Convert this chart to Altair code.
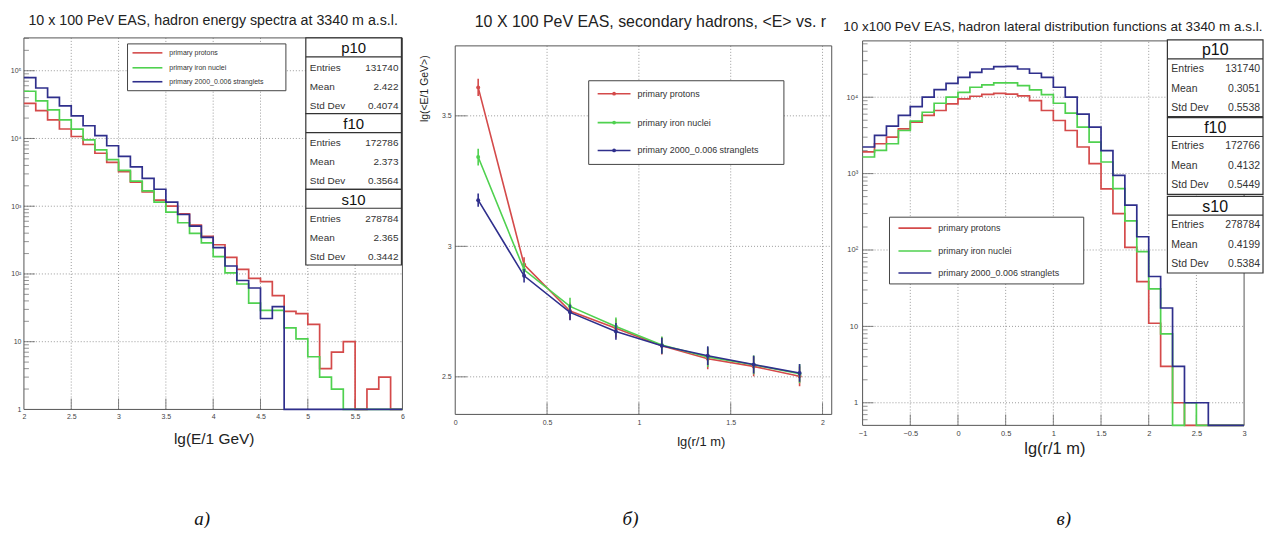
import altair as alt
import pandas as pd

FONT = "Liberation Sans"
W, H = 1262, 520
OFF = 8


def P(v):
    return v - OFF


# ---------------------------------------------------------------- data
series_names = ["primary protons", "primary iron nuclei", "primary 2000_0.006 stranglets"]
series_colors = ["#d44a4a", "#4fd14f", "#2f2f8c"]
stat_names = ["p10", "f10", "s10"]
stat_labels = ["Entries", "Mean", "Std Dev"]

# (a) hadron energy spectra, 32 bins of lg(E/1 GeV) between 2 and 6
energy_edges = [2 + 0.125 * i for i in range(33)]
energy_protons = [33000, 25800, 18800, 13800, 10700, 8150, 6050, 4450, 3230, 2270, 1620, 1230,
                  1000, 770, 525, 360, 270, 176, 117, 86, 77, 48, 28, 26, 18, 4, 7, 10, 0, 2, 3, 0]
energy_iron = [49800, 36000, 26400, 18800, 13700, 9560, 6800, 4870, 3390, 2350, 1680, 1150,
               820, 570, 398, 288, 180, 104, 71, 37, 29, 29, 16, 11, 6, 3, 2, 0, 0, 0, 0, 0]
energy_strange = [79000, 55600, 40500, 30200, 21500, 15400, 11000, 7800, 5430, 3800, 2570, 1780,
                  1150, 755, 508, 347, 245, 131, 80, 62, 22, 33, 0, 0, 0, 0, 0, 0, 0, 0, 0, 0]
energy_entries = [131740, 172786, 278784]
energy_means = [2.422, 2.373, 2.365]
energy_stds = [0.4074, 0.3564, 0.3442]
energy_xticks = [2, 2.5, 3, 3.5, 4, 4.5, 5, 5.5, 6]
energy_yticks = [1, 10, 100, 1000, 10000, 100000]

# (b) <E> of secondary hadrons vs lg(r)
r_centers = [0.125, 0.375, 0.625, 0.875, 1.125, 1.375, 1.625, 1.875]
mean_protons = [3.609, 2.930, 2.752, 2.686, 2.619, 2.569, 2.540, 2.502]
mean_iron = [3.342, 2.910, 2.770, 2.693, 2.622, 2.576, 2.546, 2.512]
mean_strange = [3.177, 2.887, 2.747, 2.674, 2.619, 2.581, 2.547, 2.515]
err_protons = [0.033, 0.028, 0.033, 0.035, 0.033, 0.040, 0.038, 0.038]
err_iron = [0.032, 0.028, 0.033, 0.034, 0.033, 0.038, 0.036, 0.036]
err_strange = [0.025, 0.026, 0.030, 0.032, 0.031, 0.036, 0.034, 0.034]
mean_xticks = [0, 0.5, 1, 1.5, 2]
mean_yticks = [2.5, 3, 3.5]

# (c) hadron lateral distribution, 32 bins of lg(r/1 m) between -1 and 3
radius_edges = [-1 + 0.125 * i for i in range(33)]
ldf_protons = [1920, 2460, 3010, 3860, 4720, 5770, 6700, 8200, 9500, 10300, 10900, 11200,
               11000, 10400, 9000, 6700, 4960, 3670, 2230, 1350, 630, 300, 108, 38.6, 11, 3, 1,
               0, 0, 0, 0, 0]
ldf_iron = [1650, 2020, 2460, 3670, 4860, 6360, 8340, 10000, 11600, 13500, 14500, 15400,
            15400, 14200, 12500, 10800, 8340, 6180, 4070, 2590, 1420, 635, 240, 95, 31, 8, 0, 1,
            0, 0, 0, 0]
ldf_strange = [2230, 3160, 4190, 5770, 7550, 10000, 12600, 15200, 18200, 21200, 23400, 25100,
               25400, 23400, 20600, 18200, 13500, 10000, 6000, 4070, 2000, 950, 386, 149, 45, 17.4,
               3, 1, 1, 0, 0, 0]
ldf_entries = [131740, 172766, 278784]
ldf_means = [0.3051, 0.4132, 0.4199]
ldf_stds = [0.5538, 0.5449, 0.5384]
ldf_xticks = [-1, -0.5, 0, 0.5, 1, 1.5, 2, 2.5, 3]
ldf_yticks = [1, 10, 100, 1000, 10000]

captions = ["а)", "б)", "в)"]

LOGEXPR = ("datum.value >= 99999 ? '10⁵' : datum.value >= 9999 ? '10⁴' : "
           "datum.value >= 999 ? '10³' : datum.value >= 99 ? '10²' : "
           "datum.value >= 9 ? '10' : '1'")

dummy = pd.DataFrame({"k": [0]})


# ---------------------------------------------------------------- helpers
def text_at(txt, x, y, size, align="center", color="#222", font=FONT, angle=0, style="normal"):
    return alt.Chart(dummy).mark_text(
        text=txt, align=align, baseline="middle", fontSize=size, font=font, color=color,
        angle=angle, fontStyle=style,
    ).encode(x=alt.value(P(x)), y=alt.value(P(y)))


def rect_at(x0, y0, x1, y1, stroke="#333", width=1.0):
    return alt.Chart(dummy).mark_rect(fill="white", stroke=stroke, strokeWidth=width).encode(
        x=alt.value(P(x0)), x2=alt.value(P(x1)), y=alt.value(P(y0)), y2=alt.value(P(y1)))


def hline_at(x0, x1, y, color, width=1.0):
    return alt.Chart(dummy).mark_rule(color=color, strokeWidth=width).encode(
        x=alt.value(P(x0)), x2=alt.value(P(x1)), y=alt.value(P(y)))


def dot_at(x, y, color):
    return alt.Chart(dummy).mark_point(filled=True, size=14, color=color, opacity=1).encode(
        x=alt.value(P(x)), y=alt.value(P(y)))


def legend_box(x0, y0, x1, y1, rows_y, lx0, lx1, tx, size, dots=False):
    out = [rect_at(x0, y0, x1, y1, stroke="#444")]
    for name, color, yy in zip(series_names, series_colors, rows_y):
        out.append(hline_at(lx0, lx1, yy, color, 1.6))
        if dots:
            out.append(dot_at((lx0 + lx1) / 2, yy, color))
        out.append(text_at(name, tx, yy, size, align="left", color="#333"))
    return out


def stats_boxes(x0, x1, tops, height, head_h, entries, means, stds, head_size, row_size, rows):
    out = []
    for top, nm, en, mn, sd in zip(tops, stat_names, entries, means, stds):
        out.append(rect_at(x0, top, x1, top + height, stroke="#333", width=1.2))
        out.append(hline_at(x0, x1, top + head_h, "#333", 1.2))
        out.append(text_at(nm, (x0 + x1) / 2, top + head_h / 2 + 1, head_size, color="#111"))
        for lab, val, off in zip(stat_labels, [str(en), str(mn), str(sd)], rows):
            out.append(text_at(lab, x0 + 4, top + off, row_size, align="left", color="#333"))
            out.append(text_at(val, x1 - 3, top + off, row_size, align="right", color="#333"))
    return out


def axis(orient, offset, values, size, pad, fmt=None, expr=None):
    kw = dict(orient=orient, offset=offset, values=values, ticks=False, tickSize=0, domain=False,
              grid=False, labelFontSize=size, labelColor="#444", labelFont=FONT,
              labelPadding=pad, labelFlush=False, labelOverlap=False, title=None)
    if fmt:
        kw["format"] = fmt
    if expr:
        kw["labelExpr"] = expr
    return alt.Axis(**kw)


def frame_layers(X, Y, xlo, xhi, ylo, yhi, gx, gy, mx, my, miny, tl):
    out = []
    out.append(alt.Chart(pd.DataFrame({"v": gx, "lo": ylo, "hi": yhi})).mark_rule(
        color="#9a9a9a", strokeDash=[1, 2], strokeWidth=1).encode(
        x=X("v"), y=Y("lo"), y2=alt.Y2("hi")))
    out.append(alt.Chart(pd.DataFrame({"v": gy, "lo": xlo, "hi": xhi})).mark_rule(
        color="#9a9a9a", strokeDash=[1, 2], strokeWidth=1).encode(
        y=Y("v"), x=X("lo"), x2=alt.X2("hi")))
    out.append(alt.Chart(pd.DataFrame({"x0": [xlo], "x1": [xhi], "y0": [ylo], "y1": [yhi]}))
               .mark_rect(fillOpacity=0, stroke="#555", strokeWidth=1).encode(
        x=X("x0"), x2=alt.X2("x1"), y=Y("y0"), y2=alt.Y2("y1")))
    out.append(alt.Chart(pd.DataFrame({"v": mx, "b": ylo})).mark_tick(
        orient="vertical", size=tl, thickness=1, color="#555", yOffset=-tl / 2).encode(
        x=X("v"), y=Y("b")))
    out.append(alt.Chart(pd.DataFrame({"v": my, "b": xlo})).mark_tick(
        orient="horizontal", size=tl, thickness=1, color="#555", xOffset=tl / 2).encode(
        y=Y("v"), x=X("b")))
    if miny:
        out.append(alt.Chart(pd.DataFrame({"v": miny, "b": xlo})).mark_tick(
            orient="horizontal", size=5, thickness=1, color="#666", xOffset=2.5).encode(
            y=Y("v"), x=X("b")))
    return out


def hist_layers(X, Y, edges, series, floor):
    out = []
    for vals, color in zip(series, series_colors):
        df = pd.DataFrame({"edge": edges, "count": list(vals) + [vals[-1]]})
        out.append(alt.Chart(df).transform_calculate(shown=f"max(datum.count, {floor})")
                   .mark_line(interpolate="step-after", color=color, strokeWidth=1.7)
                   .encode(x=X("edge"), y=Y("shown")))
    return out


def coder(scale, ax, ch):
    if ch == "x":
        return lambda f: alt.X(f, type="quantitative", scale=scale, axis=ax, title=None)
    return lambda f: alt.Y(f, type="quantitative", scale=scale, axis=ax, title=None)


# ---------------------------------------------------------------- panel a
a_ylo, a_yhi = 1, 305000
xs_a = alt.Scale(domain=[2, 6], range=[P(24), P(404)], nice=False, zero=False)
ys_a = alt.Scale(type="log", domain=[a_ylo, a_yhi], range=[P(410), P(37)], nice=False)
Xa = coder(xs_a, axis("bottom", P(410) - H, energy_xticks, 7, 3, fmt="~g"), "x")
Ya = coder(ys_a, axis("left", -P(24), energy_yticks, 7, 3, expr=LOGEXPR), "y")
a_minor = [m * 10 ** k for k in range(0, 6) for m in range(2, 10) if m * 10 ** k < a_yhi]

panel_a = alt.layer(
    *frame_layers(Xa, Ya, 2, 6, a_ylo, a_yhi, energy_xticks[1:-1], energy_yticks[1:],
                  energy_xticks[1:-1], energy_yticks[1:], a_minor, 11),
    *hist_layers(Xa, Ya, energy_edges, [energy_protons, energy_iron, energy_strange], a_ylo),
    *legend_box(128, 43, 287, 90, [52, 67, 81], 133, 163, 170, 7),
    *stats_boxes(307, 403, [37, 113, 189], 76, 19, energy_entries, energy_means, energy_stds,
                 15, 10, [30, 49, 68]),
    text_at("10 x 100 PeV EAS, hadron energy spectra at 3340 m a.s.l.", 214, 20, 14.3),
    text_at("lg(E/1 GeV)", 215, 440, 15.5),
)

# ---------------------------------------------------------------- panel b
b_ylo, b_yhi = 2.356, 3.768
xs_b = alt.Scale(domain=[0, 2.05], range=[P(457), P(835)], nice=False, zero=False)
ys_b = alt.Scale(domain=[b_ylo, b_yhi], range=[P(415), P(45)], nice=False, zero=False)
Xb = coder(xs_b, axis("bottom", P(415) - H, mean_xticks, 7, 4, fmt="~g"), "x")
Yb = coder(ys_b, axis("left", -P(457), mean_yticks, 7, 4, fmt="~g"), "y")

b_layers = frame_layers(Xb, Yb, 0, 2.05, b_ylo, b_yhi, mean_xticks[1:], mean_yticks,
                        mean_xticks[1:], mean_yticks, None, 12)
for means, errs, color in zip([mean_protons, mean_iron, mean_strange],
                              [err_protons, err_iron, err_strange], series_colors):
    df = pd.DataFrame({"r": r_centers, "m": means,
                       "lo": [m - e for m, e in zip(means, errs)],
                       "hi": [m + e for m, e in zip(means, errs)]})
    b_layers.append(alt.Chart(df).mark_line(color=color, strokeWidth=1.6).encode(
        x=Xb("r"), y=Yb("m")))
    b_layers.append(alt.Chart(df).mark_rule(color=color, strokeWidth=1.6).encode(
        x=Xb("r"), y=Yb("lo"), y2=alt.Y2("hi")))
    b_layers.append(alt.Chart(df).mark_point(filled=True, size=16, color=color, opacity=1).encode(
        x=Xb("r"), y=Yb("m")))

panel_b = alt.layer(
    *b_layers,
    *legend_box(591, 80, 787, 164, [93, 122, 150], 600, 633, 640, 9, dots=True),
    text_at("10 X 100 PeV EAS, secondary hadrons, <E> vs. r", 653, 21, 16),
    text_at("lg(r/1 m)", 704, 443, 13),
    text_at("lg(<E/1 GeV>)", 427, 88, 10.5, angle=270),
)

# ---------------------------------------------------------------- panel c
c_ylo, c_yhi = 0.506, 54600
xs_c = alt.Scale(domain=[-1, 3], range=[P(866), P(1249)], nice=False, zero=False)
ys_c = alt.Scale(type="log", domain=[c_ylo, c_yhi], range=[P(426), P(40)], nice=False)
Xc = coder(xs_c, axis("bottom", P(426) - H, ldf_xticks, 7.5, 4, fmt="~g"), "x")
Yc = coder(ys_c, axis("left", -P(866), ldf_yticks, 7.5, 5, expr=LOGEXPR), "y")
c_minor = [0.6, 0.7, 0.8, 0.9] + [m * 10 ** k for k in range(0, 5) for m in range(2, 10)
                                  if m * 10 ** k < c_yhi]

panel_c = alt.layer(
    *frame_layers(Xc, Yc, -1, 3, c_ylo, c_yhi, ldf_xticks[1:-1], ldf_yticks,
                  ldf_xticks[1:-1], ldf_yticks, c_minor, 11),
    *hist_layers(Xc, Yc, radius_edges, [ldf_protons, ldf_iron, ldf_strange], c_ylo),
    *legend_box(893, 217, 1088, 284, [228, 251, 273], 902, 935, 942, 9),
    *stats_boxes(1172, 1268, [39, 117, 196], 77, 19, ldf_entries, ldf_means, ldf_stds,
                 16, 10.5, [29, 49, 68]),
    text_at("10 x100 PeV EAS, hadron lateral distribution functions at 3340 m a.s.l.", 1057, 26, 13.5),
    text_at("lg(r/1 m)", 1059, 450, 16.5),
)

cap_layers = [text_at(c, x, 520, 19, font="Liberation Serif", style="italic", color="#111")
              for c, x in zip(captions, [203, 633, 1068])]

chart = alt.layer(panel_a, panel_b, panel_c, *cap_layers).resolve_scale(
    x="independent", y="independent"
).properties(
    width=W, height=H, padding=0, autosize=alt.AutoSizeParams(type="none")
).configure_view(strokeWidth=0)

chart.save("out.html", embed_options={"renderer": "svg", "actions": False})
